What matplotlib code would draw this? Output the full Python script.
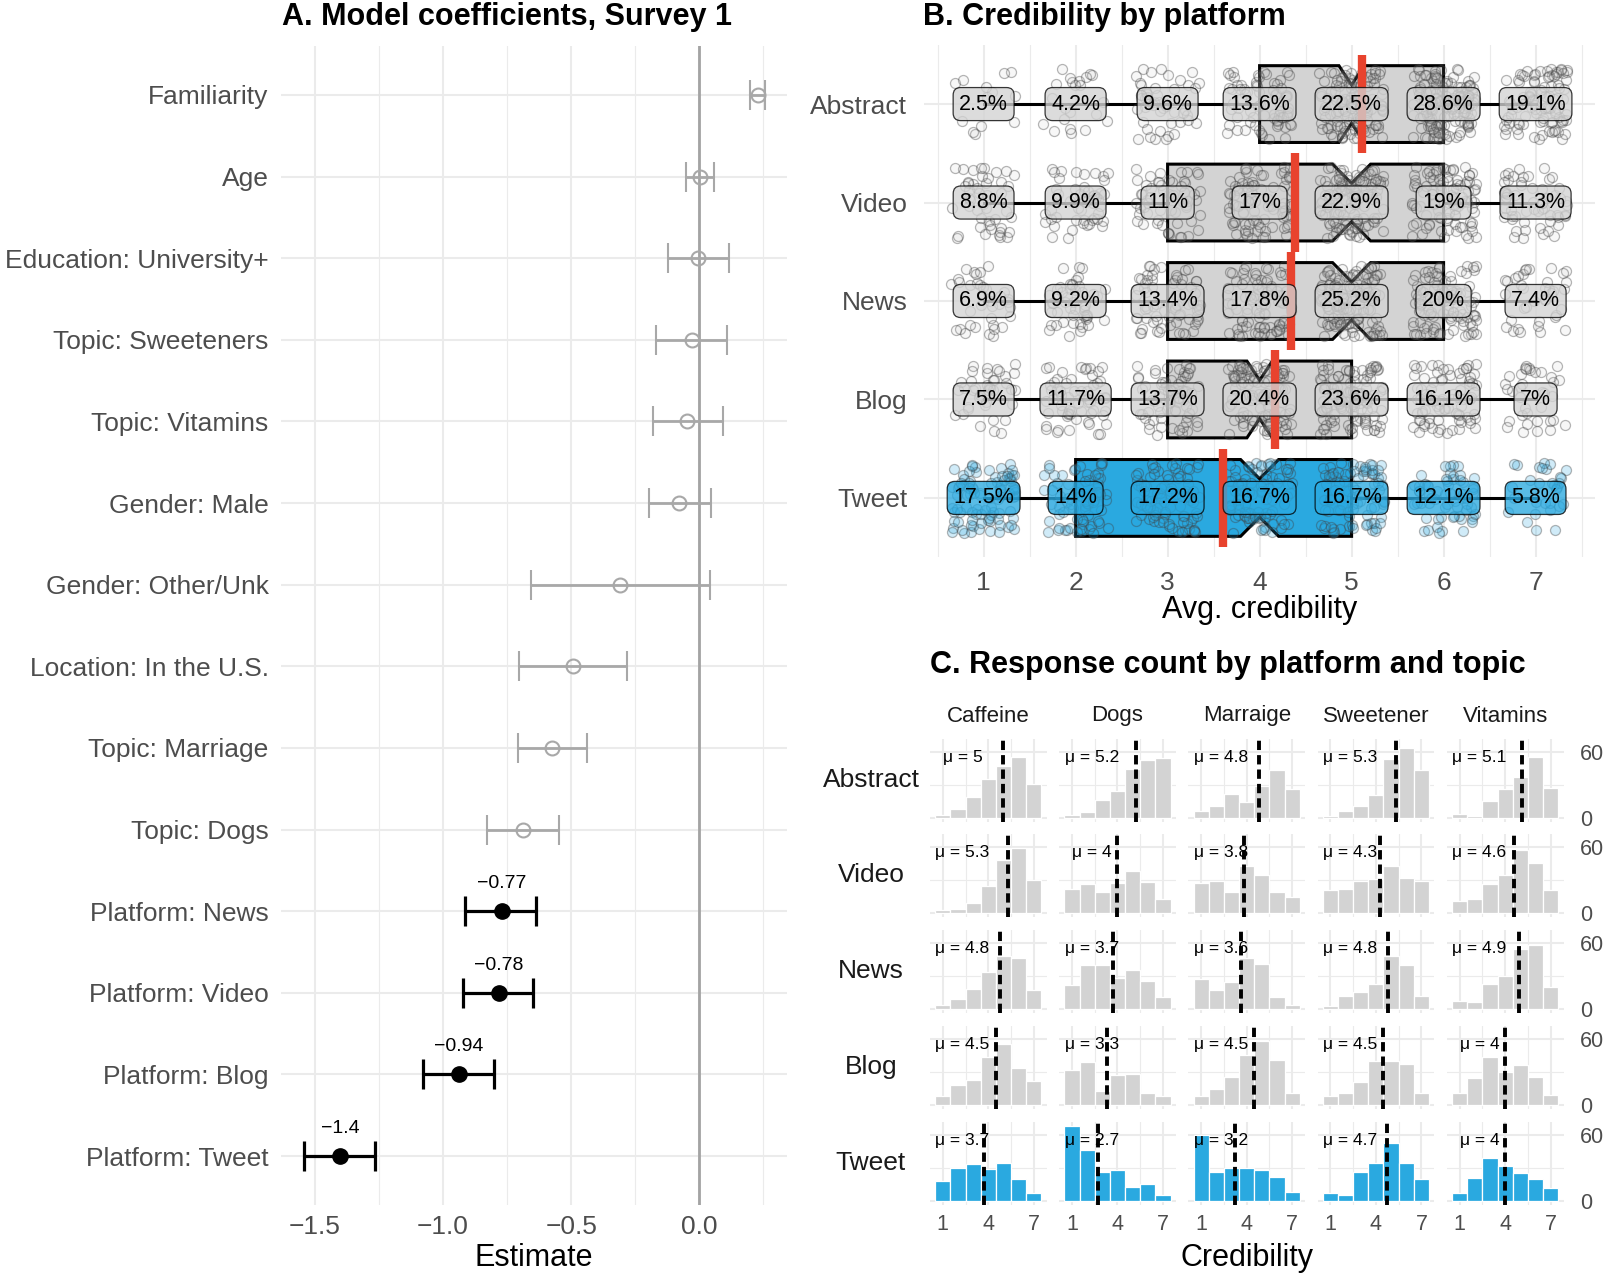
import numpy as np
import matplotlib.pyplot as plt

plt.rcParams['font.family'] = ['Liberation Sans', 'DejaVu Sans']

# ---------------- A. model coefficients ----------------
terms = ["Familiarity", "Age", "Education: University+", "Topic: Sweeteners",
         "Topic: Vitamins", "Gender: Male", "Gender: Other/Unk",
         "Location: In the U.S.", "Topic: Marriage", "Topic: Dogs",
         "Platform: News", "Platform: Video", "Platform: Blog", "Platform: Tweet"]
estimate = [0.229, 0.002, -0.003, -0.028, -0.047, -0.078, -0.31,
            -0.494, -0.574, -0.688, -0.771, -0.783, -0.939, -1.403]
ci_low = [0.199, -0.05, -0.123, -0.168, -0.182, -0.194, -0.657,
          -0.705, -0.709, -0.827, -0.913, -0.923, -1.078, -1.543]
ci_high = [0.256, 0.058, 0.118, 0.11, 0.094, 0.045, 0.041,
           -0.282, -0.438, -0.547, -0.636, -0.648, -0.803, -1.266]

# ---------------- B. credibility by platform ----------------
platforms = ["Abstract", "Video", "News", "Blog", "Tweet"]
levels = [1, 2, 3, 4, 5, 6, 7]
pct_abstract = [2.5, 4.2, 9.6, 13.6, 22.5, 28.6, 19.1]
pct_video = [8.8, 9.9, 11, 17, 22.9, 19, 11.3]
pct_news = [6.9, 9.2, 13.4, 17.8, 25.2, 20, 7.4]
pct_blog = [7.5, 11.7, 13.7, 20.4, 23.6, 16.1, 7]
pct_tweet = [17.5, 14, 17.2, 16.7, 16.7, 12.1, 5.8]
n_per_platform = 520

# ---------------- C. response count by platform and topic ----------------
topics = ["Caffeine", "Dogs", "Marraige", "Sweetener", "Vitamins"]
hist_abstract = [[3, 8, 19, 35, 47, 55, 31], [3, 5, 16, 24, 44, 52, 54],
                 [6, 11, 22, 14, 29, 43, 26], [2, 6, 11, 21, 53, 63, 43],
                 [4, 2, 15, 26, 37, 55, 27]]
hist_video = [[3, 4, 9, 24, 48, 59, 30], [22, 26, 19, 27, 38, 28, 13],
              [27, 29, 19, 42, 34, 19, 14], [21, 22, 29, 31, 42, 32, 29],
              [11, 13, 26, 34, 57, 45, 21]]
hist_news = [[4, 9, 18, 33, 48, 46, 17], [22, 40, 40, 28, 35, 25, 11],
             [27, 17, 24, 46, 41, 11, 4], [3, 12, 15, 23, 48, 40, 12],
             [7, 6, 23, 30, 54, 58, 20]]
hist_blog = [[8, 18, 23, 43, 55, 33, 22], [32, 39, 13, 27, 28, 11, 8],
             [8, 14, 25, 45, 58, 41, 11], [8, 11, 21, 40, 40, 37, 11],
             [11, 24, 43, 30, 36, 25, 9]]
hist_tweet = [[18, 30, 33, 29, 34, 20, 7], [68, 46, 26, 28, 13, 15, 5],
              [60, 26, 30, 30, 28, 22, 8], [7, 5, 26, 34, 52, 34, 20],
              [7, 21, 39, 32, 25, 20, 12]]
mu_abstract = [5, 5.2, 4.8, 5.3, 5.1]
mu_video = [5.3, 4, 3.8, 4.3, 4.6]
mu_news = [4.8, 3.7, 3.6, 4.8, 4.9]
mu_blog = [4.5, 3.3, 4.5, 4.5, 4]
mu_tweet = [3.7, 2.7, 3.2, 4.7, 4]

pcts = [pct_abstract, pct_video, pct_news, pct_blog, pct_tweet]
hists = [hist_abstract, hist_video, hist_news, hist_blog, hist_tweet]
mus = [mu_abstract, mu_video, mu_news, mu_blog, mu_tweet]

GREY_FILL = "#d3d3d3"
BLUE = "#2aa9e0"
GRID = "#ebebeb"
TICK = "#4d4d4d"
fills = [GREY_FILL, GREY_FILL, GREY_FILL, GREY_FILL, BLUE]

W, H = 1603, 1280
fig = plt.figure(figsize=(W / 100, H / 100), dpi=100)


def add_ax(l, t, r, b):
    ax = fig.add_axes([l / W, 1 - b / H, (r - l) / W, (b - t) / H])
    for s in ax.spines.values():
        s.set_visible(False)
    ax.set_axisbelow(True)
    return ax


def hash01(k):
    # deterministic scatter in [0, 1) used only for jitter offsets
    return (np.sin(k * 12.9898) * 43758.5453) % 1.0


# ---------------- panel A ----------------
axA = add_ax(281, 46, 787, 1205)
for i, t in enumerate(terms):
    x = estimate[i]
    err = [[x - ci_low[i]], [ci_high[i] - x]]
    if t.startswith("Platform"):
        axA.errorbar(x, i, xerr=err, fmt='o', color='black', ms=11, lw=2.3,
                     capsize=11, capthick=2.3, zorder=4)
        axA.text(x, i - 0.34, f"{x:.2g}".replace('-', '\u2212'),
                 ha='center', va='center', fontsize=14)
    else:
        axA.errorbar(x, i, xerr=err, fmt='o', color='#a8a8a8', mfc='none',
                     ms=10, mew=1.5, lw=2, capsize=11, capthick=2, zorder=4)
axA.axvline(0, color='#a3a3a3', lw=2, zorder=2)
axA.set_xlim(-1.633, 0.343)
axA.set_ylim(len(terms) - 0.4, -0.6)
axA.set_yticks(range(len(terms)), terms)
axA.set_xticks([-1.5, -1.0, -0.5, 0.0])
axA.set_xticks([-1.25, -0.75, -0.25, 0.25], minor=True)
axA.grid(which='major', color=GRID, lw=1.5)
axA.grid(which='minor', axis='x', color=GRID, lw=0.8)
axA.tick_params(which='both', length=0, labelsize=19, labelcolor=TICK)
axA.tick_params(axis='y', pad=9)
axA.tick_params(axis='x', pad=7)
fig.text(534 / W, 1 - 1258 / H, "Estimate", ha='center', va='center', fontsize=22)
fig.text(282 / W, 1 - 17 / H, "A. Model coefficients, Survey 1", ha='left',
         va='center', fontsize=22, fontweight='bold')

# ---------------- panel B ----------------
axB = add_ax(924, 45, 1595, 557)
data_B = []
for p in pcts:
    counts = np.round(np.array(p) / 100 * n_per_platform).astype(int)
    data_B.append(np.repeat(levels, counts).astype(float))

bp = axB.boxplot(data_B, positions=range(len(platforms)), orientation='horizontal',
                 notch=True, whis=(0, 100), widths=0.78, patch_artist=True,
                 showcaps=False, showfliers=False,
                 medianprops=dict(linewidth=0),
                 whiskerprops=dict(color='black', lw=2.2),
                 boxprops=dict(edgecolor='black', lw=2.2))
for patch, fc in zip(bp['boxes'], fills):
    patch.set_facecolor(fc)
    patch.set_zorder(2)
for wl in bp['whiskers']:
    wl.set_zorder(2)

# jittered responses around each level
for r, vals in enumerate(data_B):
    k = np.arange(len(vals)) + r * 1013 + 1
    jx = (hash01(k) - 0.5) * 0.70
    jy = (hash01(k * 1.618 + 0.37) - 0.5) * 0.72
    fc = (0.16, 0.66, 0.88, 0.22) if r == 4 else (0.75, 0.75, 0.75, 0.12)
    axB.scatter(vals + jx, r + jy, s=52, facecolors=[fc],
                edgecolors=[(0.25, 0.25, 0.25, 0.38)], linewidths=0.9, zorder=3)

for r, vals in enumerate(data_B):
    m = vals.mean()
    axB.plot([m, m], [r - 0.5, r + 0.5], color='#e8432e', lw=6,
             solid_capstyle='butt', zorder=5)
    for lv, p in zip(levels, pcts[r]):
        axB.text(lv, r, f"{p:g}%", ha='center', va='center', fontsize=15.5,
                 zorder=6,
                 bbox=dict(boxstyle='round,pad=0.28,rounding_size=0.35',
                           fc=fills[r], ec='black', lw=0.9, alpha=0.78))

axB.set_xlim(0.352, 7.646)
axB.set_ylim(len(platforms) - 0.4, -0.6)
axB.set_yticks(range(len(platforms)), platforms)
axB.set_xticks(levels)
axB.set_xticks(np.arange(0.5, 8, 1.0), minor=True)
axB.grid(which='major', color=GRID, lw=1.5)
axB.grid(which='minor', axis='x', color=GRID, lw=0.8)
axB.tick_params(which='both', length=0, labelsize=19, labelcolor=TICK)
axB.tick_params(axis='y', pad=12)
axB.tick_params(axis='x', pad=10)
fig.text(1260 / W, 1 - 610 / H, "Avg. credibility", ha='center', va='center', fontsize=22)
fig.text(923 / W, 1 - 17 / H, "B. Credibility by platform", ha='left',
         va='center', fontsize=22, fontweight='bold')

# ---------------- panel C ----------------
col_left = 929.9
col_step = 129.2
col_w = 116.8
baselines = [818, 913, 1009, 1105, 1201]
ymax = max(max(max(h) for h in hh) for hh in hists)
ylo, yhi = -0.05 * ymax, 1.05 * ymax
px_per_unit = 1.108
for r in range(len(platforms)):
    top = baselines[r] - yhi * px_per_unit
    bot = baselines[r] - ylo * px_per_unit
    for c in range(len(topics)):
        l = col_left + c * col_step
        ax = add_ax(l, top, l + col_w, bot)
        ax.bar(levels, hists[r][c], width=1.0, color=fills[r],
               edgecolor='white', lw=0.9, zorder=2)
        ax.axvline(mus[r][c], color='black', lw=2.8, ls=(0, (2.4, 1.3)), zorder=3)
        ax.text(2.3, 55, f"\u03bc = {mus[r][c]:g}", ha='center', va='center',
                fontsize=12.5, zorder=4)
        ax.set_xlim(0.15, 7.85)
        ax.set_ylim(ylo, yhi)
        ax.set_xticks([1, 4, 7])
        ax.set_xticks([2.5, 5.5], minor=True)
        ax.set_yticks([0, 60])
        ax.set_yticks([30], minor=True)
        ax.grid(which='major', color=GRID, lw=1.5)
        ax.grid(which='minor', color=GRID, lw=0.8)
        ax.tick_params(which='both', length=0, labelsize=15.5, labelcolor=TICK)
        if r != len(platforms) - 1:
            ax.set_xticklabels([])
        else:
            ax.tick_params(axis='x', pad=7)
        if c == len(topics) - 1:
            ax.yaxis.tick_right()
            ax.tick_params(axis='y', pad=12)
        else:
            ax.set_yticklabels([])
        if r == 0:
            fig.text((l + col_w / 2) / W, 1 - 716 / H, topics[c], ha='center',
                     va='center', fontsize=16, color='#1a1a1a')
    fig.text(871 / W, 1 - (top + bot) / 2 / H, platforms[r], ha='center',
             va='center', fontsize=19, color='#1a1a1a')

fig.text(1247 / W, 1 - 1258 / H, "Credibility", ha='center', va='center', fontsize=22)
fig.text(930 / W, 1 - 665 / H, "C. Response count by platform and topic", ha='left',
         va='center', fontsize=22, fontweight='bold')

fig.savefig("out.png", dpi=100, facecolor='white')
